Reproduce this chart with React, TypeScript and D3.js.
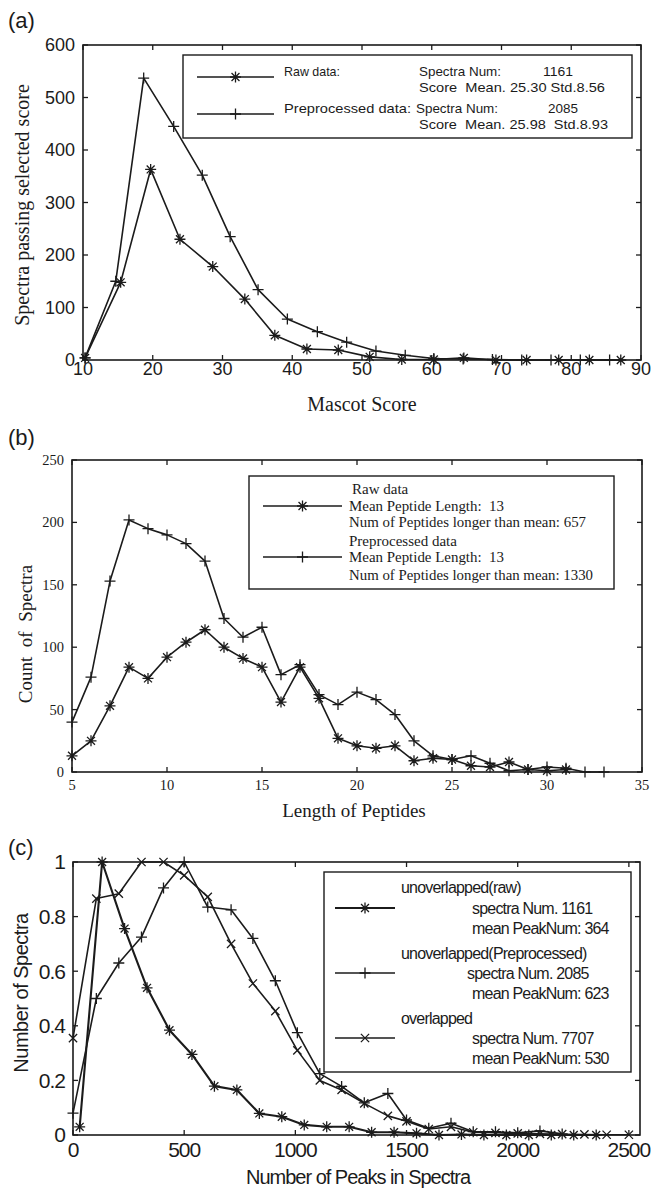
import React from "react";
import * as d3 from "d3";

// (a) Mascot score distribution
const scoreRawX = [10.3, 15.4, 19.7, 23.9, 28.6, 33.2, 37.5, 42.1, 46.6, 51.1, 55.7, 60.3, 64.6, 69.2, 73.6, 78.2, 82.6, 87.1];
const scoreRawY = [4, 148, 363, 230, 178, 116, 47, 21, 19, 6, 1, 1, 4, 0, 0, 0, 0, 0];
const scorePreX = [10.3, 14.7, 18.7, 23.0, 27.1, 31.1, 35.1, 39.3, 43.6, 47.8, 52.0, 56.2, 60.3, 64.5, 68.7, 72.9, 77.1, 81.3, 85.5];
const scorePreY = [4, 150, 537, 445, 352, 235, 134, 78, 54, 34, 17, 9, 3, 2, 1, 0, 0, 0, 0];
const scoreTicksX = [10, 20, 30, 40, 50, 60, 70, 80, 90];
const scoreTicksY = [0, 100, 200, 300, 400, 500, 600];

// (b) peptide length distribution
const lenRawX = [5, 6, 7, 8, 9, 10, 11, 12, 13, 14, 15, 16, 17, 18, 19, 20, 21, 22, 23, 24, 25, 26, 27, 28, 29, 30, 31];
const lenRawY = [13, 25, 53, 84, 75, 92, 104, 114, 100, 91, 84, 56, 84, 59, 27, 21, 19, 21, 9, 11, 10, 5, 4, 8, 2, 1, 2];
const lenPreX = [5, 6, 7, 8, 9, 10, 11, 12, 13, 14, 15, 16, 17, 18, 19, 20, 21, 22, 23, 24, 25, 26, 27, 28, 29, 30, 31, 32, 33];
const lenPreY = [40, 76, 153, 202, 195, 190, 183, 169, 123, 108, 116, 78, 86, 62, 54, 64, 58, 46, 25, 13, 10, 13, 7, 1, 2, 4, 3, 0, 0];
const lenTicksX = [5, 10, 15, 20, 25, 30, 35];
const lenTicksY = [0, 50, 100, 150, 200, 250];

// (c) peaks per spectrum
const peakRawX = [30, 131, 232, 333, 434, 535, 636, 737, 838, 939, 1040, 1141, 1242, 1343, 1444, 1545, 1646, 1747, 1848, 1949, 2050, 2151, 2252, 2353];
const peakRawY = [0.03, 1.0, 0.756, 0.539, 0.384, 0.295, 0.179, 0.165, 0.079, 0.067, 0.037, 0.03, 0.03, 0.01, 0.01, 0.006, 0, 0.002, 0, 0, 0, 0, 0, 0];
const peakPreX = [0, 105, 206, 308, 407, 500, 606, 711, 809, 910, 1009, 1110, 1208, 1310, 1416, 1500, 1600, 1700, 1800, 1900, 2000, 2100, 2200];
const peakPreY = [0.08, 0.5, 0.63, 0.725, 0.905, 1.0, 0.835, 0.825, 0.72, 0.565, 0.375, 0.225, 0.178, 0.118, 0.152, 0.055, 0.025, 0.043, 0.012, 0.012, 0.008, 0.015, 0.004];
const peakOvX = [0, 105, 206, 308, 407, 500, 606, 711, 809, 910, 1009, 1110, 1208, 1310, 1416, 1500, 1600, 1700, 1800, 1900, 2000, 2100, 2200, 2300, 2400, 2500];
const peakOvY = [0.355, 0.866, 0.884, 1.0, 1.0, 0.951, 0.872, 0.7, 0.555, 0.454, 0.31, 0.2, 0.165, 0.116, 0.07, 0.05, 0.022, 0.03, 0.01, 0.008, 0.006, 0.004, 0.003, 0.002, 0.001, 0.001];
const peakTicksX = [0, 500, 1000, 1500, 2000, 2500];
const peakTicksY = [0, 0.2, 0.4, 0.6, 0.8, 1];

const INK = "#1b1b1b";
const SANS = "'Liberation Sans', Arial, sans-serif";
const SERIF = "'Liberation Serif', 'Times New Roman', serif";

type MarkerKind = "star" | "plus" | "cross";

const Marker = ({ kind, x, y, r = 5.5, sw = 1.3 }: { kind: MarkerKind; x: number; y: number; r?: number; sw?: number }) => {
  let path = "";
  if (kind === "plus" || kind === "star") path += `M${x - r},${y}H${x + r}M${x},${y - r}V${y + r}`;
  if (kind === "cross" || kind === "star") {
    const k = kind === "cross" ? r * 0.75 : r * 0.72;
    path += `M${x - k},${y - k}L${x + k},${y + k}M${x - k},${y + k}L${x + k},${y - k}`;
  }
  return <path d={path} stroke={INK} strokeWidth={sw} fill="none" />;
};

type Series = { xs: number[]; ys: number[]; kind: MarkerKind; width?: number };

type PanelProps = {
  box: { left: number; right: number; top: number; bottom: number };
  xDomain: [number, number];
  yDomain: [number, number];
  xTicks: number[];
  yTicks: number[];
  series: Series[];
  tickFont: string;
  tickSize: number;
  xLabelY: number;
  yLabelGap: number;
  spacing?: number;
};

const Panel = ({ box, xDomain, yDomain, xTicks, yTicks, series, tickFont, tickSize, xLabelY, yLabelGap, spacing = 0 }: PanelProps) => {
  const x = d3.scaleLinear().domain(xDomain).range([box.left, box.right]);
  const y = d3.scaleLinear().domain(yDomain).range([box.bottom, box.top]);
  const tl = 5;
  return (
    <g>
      {series.map((s, i) => {
        const pts = s.xs.map((v, j) => [x(v), y(s.ys[j])] as [number, number]);
        const line = d3.line()(pts) || "";
        return (
          <g key={i}>
            <path d={line} fill="none" stroke={INK} strokeWidth={s.width ?? 1.6} strokeLinejoin="round" />
            {pts.map((p, j) => (
              <Marker key={j} kind={s.kind} x={p[0]} y={p[1]} />
            ))}
          </g>
        );
      })}
      <rect x={box.left} y={box.top} width={box.right - box.left} height={box.bottom - box.top} fill="none" stroke={INK} strokeWidth={1.6} />
      {xTicks.map((t) => (
        <g key={"x" + t}>
          <line x1={x(t)} x2={x(t)} y1={box.bottom} y2={box.bottom - tl} stroke={INK} strokeWidth={1.3} />
          <line x1={x(t)} x2={x(t)} y1={box.top} y2={box.top + tl} stroke={INK} strokeWidth={1.3} />
          <text x={x(t)} y={xLabelY} textAnchor="middle" fontFamily={tickFont} fontSize={tickSize} letterSpacing={spacing} fill={INK}>
            {String(t)}
          </text>
        </g>
      ))}
      {yTicks.map((t) => (
        <g key={"y" + t}>
          <line x1={box.left} x2={box.left + tl} y1={y(t)} y2={y(t)} stroke={INK} strokeWidth={1.3} />
          <line x1={box.right} x2={box.right - tl} y1={y(t)} y2={y(t)} stroke={INK} strokeWidth={1.3} />
          <text x={box.left - yLabelGap} y={y(t)} dy="0.35em" textAnchor="end" fontFamily={tickFont} fontSize={tickSize} letterSpacing={spacing} fill={INK}>
            {String(t)}
          </text>
        </g>
      ))}
    </g>
  );
};

const LegendLine = ({ x1, x2, y, kind, width = 1.6 }: { x1: number; x2: number; y: number; kind: MarkerKind; width?: number }) => (
  <g>
    <line x1={x1} x2={x2} y1={y} y2={y} stroke={INK} strokeWidth={width} />
    <Marker kind={kind} x={(x1 + x2) / 2} y={y} />
  </g>
);

export default function App() {
  const aBox = { left: 83, right: 641, top: 45, bottom: 360 };
  const bBox = { left: 72, right: 642, top: 460, bottom: 772 };
  const cBox = { left: 73, right: 640, top: 862, bottom: 1135 };
  const legA = { fontFamily: SANS, fontSize: 13.5, fill: INK, lengthAdjust: "spacingAndGlyphs" } as const;
  const legB = { fontFamily: SERIF, fontSize: 14, fill: INK, lengthAdjust: "spacingAndGlyphs" } as const;
  const legC = { fontFamily: SANS, fontSize: 16, fill: INK, letterSpacing: -0.8 } as const;

  return (
    <svg width={651} height={1189} style={{ position: "absolute", left: 0, top: 0, background: "#fff" }}>
      <rect width={651} height={1189} fill="#fff" />

      {/* (a) */}
      <text x={8} y={28} fontFamily={SANS} fontSize={22} fill={INK}>(a)</text>
      <Panel
        box={aBox}
        xDomain={[10, 90]}
        yDomain={[0, 600]}
        xTicks={scoreTicksX}
        yTicks={scoreTicksY}
        series={[
          { xs: scoreRawX, ys: scoreRawY, kind: "star" },
          { xs: scorePreX, ys: scorePreY, kind: "plus" },
        ]}
        tickFont={SANS}
        tickSize={18}
        xLabelY={375}
        yLabelGap={8}
      />
      <text x={362} y={411} textAnchor="middle" fontFamily={SERIF} fontSize={20} fill={INK}>Mascot Score</text>
      <text transform="translate(29,205) rotate(-90)" textAnchor="middle" fontFamily={SERIF} fontSize={20} fill={INK}>
        Spectra passing selected score
      </text>
      <rect x={183} y={55} width={449} height={83} fill="#fff" stroke={INK} strokeWidth={1.4} />
      <LegendLine x1={197} x2={274} y={77} kind="star" />
      <LegendLine x1={197} x2={274} y={114} kind="plus" />
      <text {...legA} x={284} y={76} textLength={56}>Raw data:</text>
      <text {...legA} x={419} y={76} textLength={82}>Spectra Num:</text>
      <text {...legA} x={543} y={76} textLength={30}>1161</text>
      <text {...legA} x={419} y={92} textLength={186} style={{ whiteSpace: "pre" }}>{"Score  Mean. 25.30 Std.8.56"}</text>
      <text {...legA} x={284} y={113} textLength={127}>Preprocessed data:</text>
      <text {...legA} x={416} y={113} textLength={82}>Spectra Num:</text>
      <text {...legA} x={548} y={113} textLength={30}>2085</text>
      <text {...legA} x={419} y={129} textLength={189} style={{ whiteSpace: "pre" }}>{"Score  Mean. 25.98  Std.8.93"}</text>

      {/* (b) */}
      <text x={8} y={445} fontFamily={SANS} fontSize={22} fill={INK}>(b)</text>
      <Panel
        box={bBox}
        xDomain={[5, 35]}
        yDomain={[0, 250]}
        xTicks={lenTicksX}
        yTicks={lenTicksY}
        series={[
          { xs: lenRawX, ys: lenRawY, kind: "star" },
          { xs: lenPreX, ys: lenPreY, kind: "plus" },
        ]}
        tickFont={SERIF}
        tickSize={14.5}
        xLabelY={790}
        yLabelGap={8}
      />
      <text x={354} y={817} textAnchor="middle" fontFamily={SERIF} fontSize={19} fill={INK}>Length of Peptides</text>
      <text transform="translate(32,634) rotate(-90)" textAnchor="middle" fontFamily={SERIF} fontSize={19} fill={INK} style={{ whiteSpace: "pre" }}>
        {"Count  of  Spectra"}
      </text>
      <rect x={249} y={476} width={365} height={113} fill="#fff" stroke={INK} strokeWidth={1.4} />
      <LegendLine x1={263} x2={342} y={506} kind="star" />
      <LegendLine x1={263} x2={342} y={557} kind="plus" />
      <text fontFamily={SERIF} fontSize={15} fill={INK} x={352} y={494}>Raw data</text>
      <text {...legB} x={349} y={511} textLength={155} style={{ whiteSpace: "pre" }}>{"Mean Peptide Length:  13"}</text>
      <text {...legB} x={349} y={527} textLength={237}>Num of Peptides longer than mean: 657</text>
      <text fontFamily={SERIF} fontSize={15} fill={INK} x={349} y={546}>Preprocessed data</text>
      <text {...legB} x={349} y={562} textLength={155} style={{ whiteSpace: "pre" }}>{"Mean Peptide Length:  13"}</text>
      <text {...legB} x={349} y={580} textLength={244}>Num of Peptides longer than mean: 1330</text>

      {/* (c) */}
      <text x={8} y={855} fontFamily={SANS} fontSize={22} fill={INK}>(c)</text>
      <Panel
        box={cBox}
        xDomain={[0, 2550]}
        yDomain={[0, 1]}
        xTicks={peakTicksX}
        yTicks={peakTicksY}
        series={[
          { xs: peakRawX, ys: peakRawY, kind: "star", width: 2.1 },
          { xs: peakPreX, ys: peakPreY, kind: "plus" },
          { xs: peakOvX, ys: peakOvY, kind: "cross" },
        ]}
        tickFont={SANS}
        tickSize={21}
        xLabelY={1157}
        yLabelGap={8}
        spacing={-1}
      />
      <text x={358} y={1184} textAnchor="middle" fontFamily={SANS} fontSize={20} letterSpacing={-1} fill={INK}>
        Number of Peaks in Spectra
      </text>
      <text transform="translate(28,993) rotate(-90)" textAnchor="middle" fontFamily={SANS} fontSize={20} letterSpacing={-0.5} fill={INK}>
        Number of Spectra
      </text>
      <rect x={324} y={872} width={307} height={200} fill="#fff" stroke={INK} strokeWidth={1.4} />
      <LegendLine x1={335} x2={395} y={908} kind="star" width={2.1} />
      <LegendLine x1={335} x2={395} y={973} kind="plus" />
      <LegendLine x1={335} x2={395} y={1038} kind="cross" />
      <text {...legC} x={401} y={893}>unoverlapped(raw)</text>
      <text {...legC} x={472} y={914}>spectra Num. 1161</text>
      <text {...legC} x={472} y={934}>mean PeakNum: 364</text>
      <text {...legC} x={401} y={959}>unoverlapped(Preprocessed)</text>
      <text {...legC} x={467} y={979}>spectra Num. 2085</text>
      <text {...legC} x={472} y={999}>mean PeakNum: 623</text>
      <text {...legC} x={401} y={1024}>overlapped</text>
      <text {...legC} x={472} y={1044}>spectra Num. 7707</text>
      <text {...legC} x={472} y={1064}>mean PeakNum: 530</text>
    </svg>
  );
}
